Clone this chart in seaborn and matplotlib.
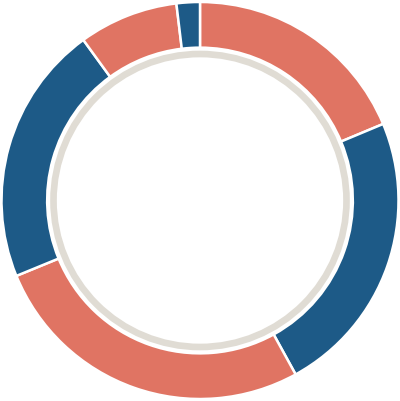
import matplotlib
matplotlib.use("Agg")
import matplotlib.pyplot as plt
import seaborn as sns

# segment shares, clockwise from 12 o'clock
labels = ["A", "B", "C", "D", "E", "F"]
values = [18.7, 23.3, 26.8, 21.2, 8.1, 1.9]

salmon = "#e07463"
blue = "#1d5a87"
palette = sns.color_palette([salmon, blue, salmon, blue, salmon, blue])

sns.set_style("white")
fig = plt.figure(figsize=(4, 4.01), dpi=100)
ax = fig.add_axes([0, 0, 1, 1])

ax.pie(values, colors=palette, startangle=90, counterclock=False,
       radius=1.0,
       wedgeprops=dict(width=0.23, edgecolor="white", linewidth=1.8))

# inner grey ring
ring = plt.Circle((0, 0), 0.738, fill=False, edgecolor="#e0dcd4", linewidth=4.8)
ax.add_patch(ring)

lim = 200.5 / 199
ax.set_xlim(-lim, lim)
ax.set_ylim(-lim, lim)
ax.set_aspect("equal")
ax.axis("off")

plt.savefig("out.png", dpi=100, facecolor="white")
